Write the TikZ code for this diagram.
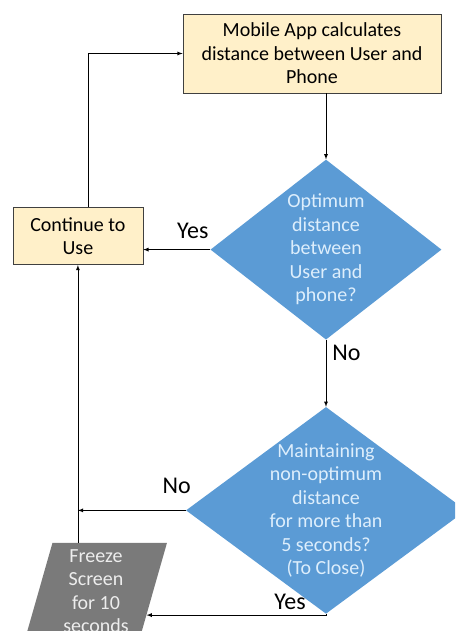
\documentclass[tikz,border=0pt]{standalone}
\usepackage{fontspec}
\setmainfont{Carlito}
\usetikzlibrary{positioning,shapes.geometric,calc}
\definecolor{boxfill}{HTML}{FFF0C9}
\definecolor{boxline}{HTML}{404040}
\definecolor{decfill}{HTML}{5B9BD5}
\definecolor{dectext}{HTML}{DDEEFC}
\definecolor{iofill}{HTML}{7A7A7A}
\definecolor{iotext}{HTML}{EDEDED}

\begin{document}
\begin{tikzpicture}[
    x=1pt, y=1pt,
    every node/.style={font=\fontsize{20}{23.5}\selectfont},
    proc/.style={rectangle, draw=boxline, line width=0.8pt, fill=boxfill, align=center, inner sep=2pt},
    dec/.style={diamond, fill=decfill, text=dectext, align=center, inner sep=-10pt},
    io/.style={trapezium, trapezium left angle=76, trapezium right angle=104, trapezium stretches=true, fill=iofill, text=iotext, align=center, inner sep=2pt},
    lbl/.style={font=\fontsize{24}{28}\selectfont, inner sep=2pt},
    arr/.style={->, >=latex, line width=0.8pt}
  ]
    \path[use as bounding box, clip] (0,0) rectangle (455,631);

    % Process box at the top
    \node[proc, minimum width=258pt, minimum height=79pt] (calc) at (312,577.5) {Mobile App calculates\\distance between User and\\Phone};

    % First check and the box to its left
    \node[dec, minimum width=231pt, minimum height=180pt, below=66pt of calc, xshift=14pt] (opt) {Optimum\\distance\\between\\User and\\phone?};
    \node[proc, minimum width=130pt, minimum height=57pt, left=67pt of opt, yshift=13.5pt] (cont) {Continue to\\Use};

    % Second check right below the first
    \node[dec, minimum width=280pt, minimum height=200pt, below=67pt of opt] (maint) {Maintaining\\non-optimum\\distance\\for more than\\5 seconds?\\(To Close)};

    % Freeze step, cut off by the bottom edge
    \node[io, minimum width=142pt, minimum height=96pt] (freeze) at (96,40) {Freeze\\Screen\\for 10\\seconds};

    \coordinate (join) at (cont.south |- maint.west);

    % Flow edges
    \draw[arr] (opt.north |- calc.south) -- (opt.north);
    \draw[arr] (opt.west) -- node[lbl, pos=0.26, above=9pt] {Yes} (opt.west -| cont.east);
    \draw[arr] (opt.south) -- node[lbl, pos=0.19, right=4pt] {No} (maint.north);
    \draw[arr] (maint.west) -- node[lbl, pos=0.085, above=14pt] {No} (join);
    \draw[arr] (maint.south) |- node[lbl, pos=0.6, above=3pt] {Yes} ($(freeze.bottom right corner)!0.25!(freeze.top right corner)$);
    \draw[arr] (cont.south |- freeze.north) -- (cont.south);
    \draw[arr] ([xshift=10pt]cont.north) |- (calc.west);

\end{tikzpicture}
\end{document}
